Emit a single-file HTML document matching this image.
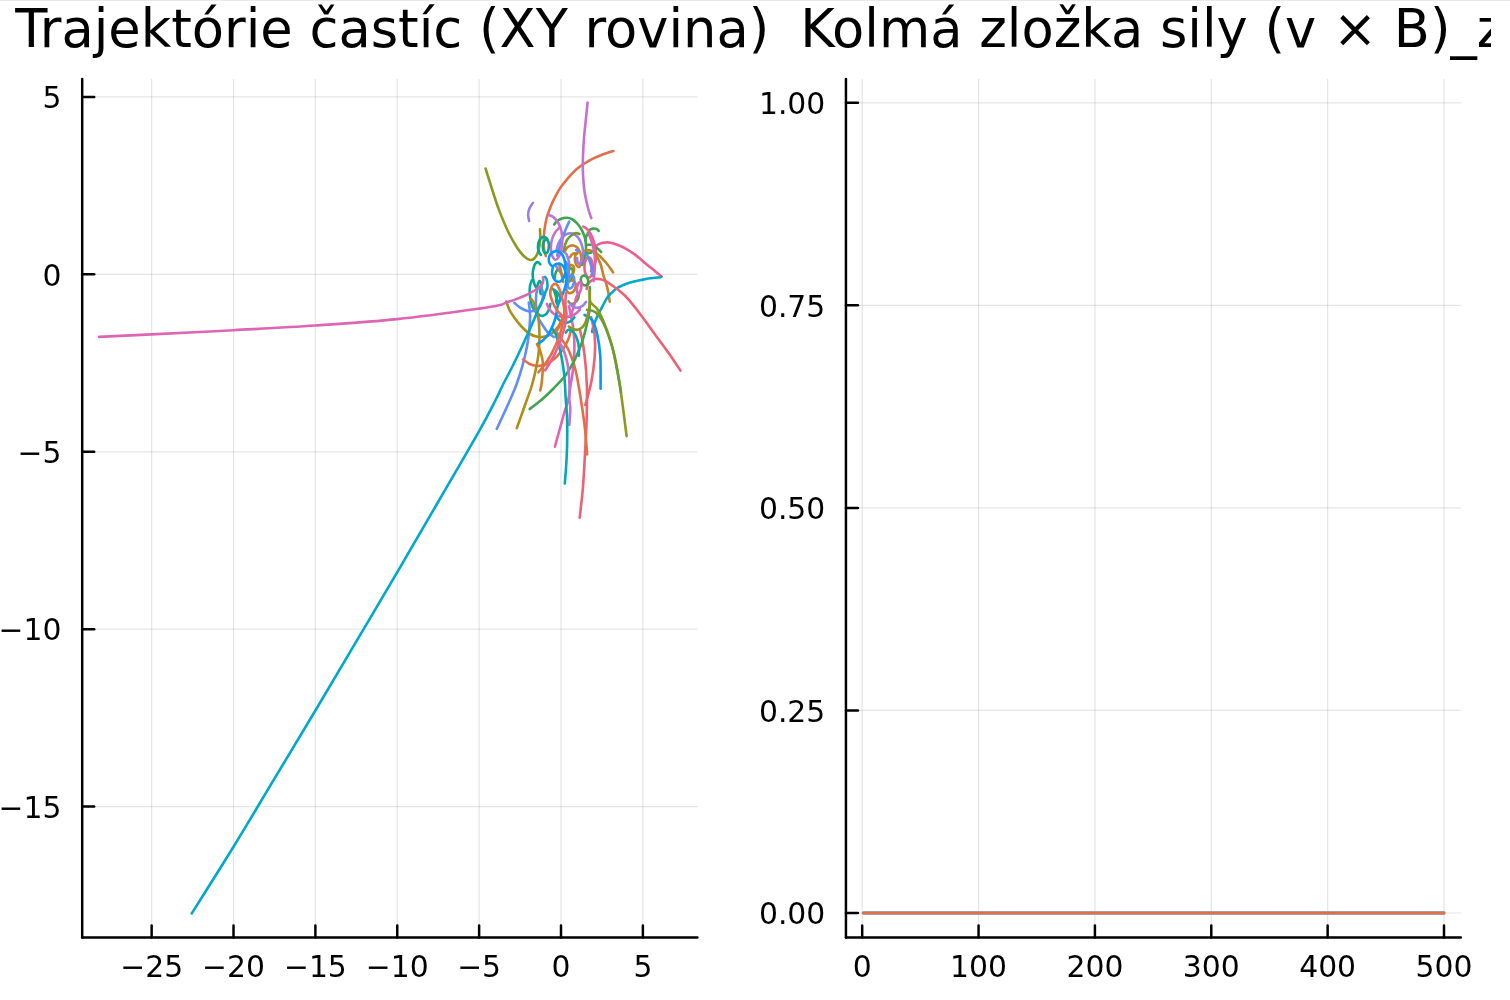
<!DOCTYPE html>
<html lang="sk"><head><meta charset="utf-8"><title>Trajektórie častíc</title>
<style>html,body{margin:0;padding:0;background:#fff;}body{width:1510px;height:1000px;overflow:hidden;position:relative;}#top{position:absolute;left:0;top:0;width:1510px;height:1px;background:#e9e9ec;}svg{position:absolute;left:0;top:0;will-change:transform;}text{font-family:"DejaVu Sans","Liberation Sans",sans-serif;fill:#000;}.tk{font-size:29.80px;}.tt{font-size:52.66px;}.c{fill:none;stroke-width:2.6;stroke-linecap:round;stroke-linejoin:round;}</style></head><body>
<div id="top"></div>
<svg width="1510" height="1000" viewBox="0 0 1510 1000">
<defs><clipPath id="clipAll"><rect x="0" y="0" width="1491" height="1000"/></clipPath><clipPath id="clipL"><rect x="82.20" y="79.10" width="615.20" height="858.40"/></clipPath></defs>
<g stroke="#000" stroke-opacity="0.1" stroke-width="1.24">
<line x1="151.65" y1="79.10" x2="151.65" y2="937.50"/>
<line x1="233.52" y1="79.10" x2="233.52" y2="937.50"/>
<line x1="315.39" y1="79.10" x2="315.39" y2="937.50"/>
<line x1="397.26" y1="79.10" x2="397.26" y2="937.50"/>
<line x1="479.13" y1="79.10" x2="479.13" y2="937.50"/>
<line x1="561.00" y1="79.10" x2="561.00" y2="937.50"/>
<line x1="642.87" y1="79.10" x2="642.87" y2="937.50"/>
<line x1="82.20" y1="96.95" x2="697.40" y2="96.95"/>
<line x1="82.20" y1="274.36" x2="697.40" y2="274.36"/>
<line x1="82.20" y1="451.77" x2="697.40" y2="451.77"/>
<line x1="82.20" y1="629.18" x2="697.40" y2="629.18"/>
<line x1="82.20" y1="806.59" x2="697.40" y2="806.59"/>
</g>
<g stroke="#000" stroke-opacity="0.1" stroke-width="1.24">
<line x1="862.20" y1="79.10" x2="862.20" y2="937.50"/>
<line x1="978.56" y1="79.10" x2="978.56" y2="937.50"/>
<line x1="1094.92" y1="79.10" x2="1094.92" y2="937.50"/>
<line x1="1211.28" y1="79.10" x2="1211.28" y2="937.50"/>
<line x1="1327.64" y1="79.10" x2="1327.64" y2="937.50"/>
<line x1="1444.00" y1="79.10" x2="1444.00" y2="937.50"/>
<line x1="845.95" y1="913.00" x2="1460.80" y2="913.00"/>
<line x1="845.95" y1="710.45" x2="1460.80" y2="710.45"/>
<line x1="845.95" y1="507.90" x2="1460.80" y2="507.90"/>
<line x1="845.95" y1="305.35" x2="1460.80" y2="305.35"/>
<line x1="845.95" y1="102.80" x2="1460.80" y2="102.80"/>
</g>
<g class="c" clip-path="url(#clipL)">
<path stroke="#E36F47" d="M613.4 151.0C611.5 151.6 605.9 153.3 602.0 154.8C598.1 156.3 594.0 158.0 590.0 160.2C586.0 162.4 581.6 165.1 578.0 168.0C574.4 170.9 571.4 174.2 568.4 177.6C565.4 181.0 562.4 184.8 560.0 188.4C557.6 192.0 555.7 195.8 554.0 199.2C552.3 202.6 551.1 205.5 549.8 208.8C548.5 212.1 547.3 215.3 546.4 219.0C545.5 222.7 544.8 227.2 544.3 231.0C543.8 234.8 543.6 238.8 543.6 242.0C543.6 245.2 543.8 247.7 544.2 250.0C544.6 252.3 545.5 255.0 545.8 256.0"/>
<path stroke="#3EA44E" d="M554.2 224.4C554.7 223.8 555.9 221.8 557.2 220.8C558.5 219.8 560.4 218.9 562.0 218.4C563.6 217.9 565.2 217.7 566.8 217.8C568.4 217.9 570.0 218.2 571.6 219.0C573.2 219.8 574.9 221.1 576.4 222.6C577.9 224.1 579.4 226.1 580.6 228.0C581.8 229.9 582.8 232.0 583.6 234.0C584.4 236.0 585.0 237.8 585.4 240.0C585.8 242.2 586.0 244.9 586.0 247.2C586.0 249.5 585.8 251.9 585.5 254.0C585.2 256.1 584.5 258.2 584.0 260.0C583.5 261.8 582.5 264.2 582.2 265.0"/>
<path stroke="#C371D2" d="M587.6 102.6C587.3 105.5 586.4 114.1 585.8 120.0C585.2 125.9 584.5 132.0 584.0 138.0C583.5 144.0 583.2 150.0 583.0 156.0C582.8 162.0 582.7 168.0 583.0 174.0C583.3 180.0 583.7 186.2 584.6 192.0C585.5 197.8 587.1 204.4 588.2 208.8C589.3 213.2 590.8 216.6 591.3 218.2"/>
<path stroke="#AC8E18" d="M506.3 301.4C506.8 302.8 508.1 307.2 509.5 310.0C510.9 312.8 512.8 315.6 514.8 318.3C516.8 321.1 519.1 324.0 521.5 326.5C523.9 329.0 526.5 331.6 529.0 333.3C531.5 335.0 534.2 336.0 536.5 336.6C538.8 337.2 540.5 337.2 542.5 337.0C544.5 336.8 546.6 336.4 548.5 335.5C550.4 334.6 552.2 333.3 553.8 331.8C555.4 330.3 557.0 328.2 558.3 326.5C559.5 324.8 560.8 322.2 561.3 321.3"/>
<path stroke="#00AAAE" d="M531.8 280.4C531.5 281.3 530.4 283.7 530.0 285.8C529.6 287.9 529.6 290.6 529.7 293.0C529.8 295.4 530.2 297.9 530.6 300.2C531.0 302.5 531.5 304.8 532.4 306.8C533.3 308.8 534.8 310.8 536.0 312.2C537.2 313.6 538.4 314.6 539.6 315.2C540.8 315.8 542.0 316.1 543.2 315.8C544.4 315.5 545.8 314.6 546.8 313.4C547.8 312.2 548.6 310.2 549.2 308.6C549.8 307.0 550.2 304.6 550.4 303.8"/>
<path stroke="#ED5E93" d="M583.2 226.5C583.7 226.8 585.1 227.3 586.1 228.2C587.1 229.1 588.3 230.4 589.3 231.8C590.3 233.2 591.2 235.0 592.0 236.7C592.8 238.3 593.3 240.1 593.8 241.7C594.3 243.3 594.8 244.8 595.1 246.2C595.4 247.6 595.6 248.6 595.8 250.2C595.9 251.8 596.0 253.8 596.0 255.6C596.0 257.4 595.8 259.4 595.6 261.0C595.4 262.6 595.1 263.8 594.7 265.5C594.3 267.2 593.9 269.2 593.3 271.0C592.7 272.8 591.8 274.9 591.0 276.0C590.2 277.1 589.1 277.8 588.3 277.6C587.5 277.4 586.6 276.3 586.0 275.0C585.4 273.7 584.8 271.8 584.6 270.0C584.4 268.2 584.4 266.2 584.6 264.5C584.8 262.8 585.2 261.2 585.8 260.0C586.4 258.8 587.2 257.8 588.0 257.5C588.8 257.2 589.8 257.8 590.5 258.5C591.2 259.2 591.7 260.7 592.0 262.0C592.3 263.3 592.5 265.0 592.3 266.5C592.1 268.0 591.2 270.2 591.0 271.0"/>
<path stroke="#ED5E93" d="M595.6 246.6C596.0 246.2 597.1 245.0 598.3 244.4C599.5 243.8 601.2 243.1 602.8 242.8C604.4 242.5 606.2 242.4 607.7 242.4C609.2 242.4 610.4 242.7 611.8 243.0C613.1 243.3 614.4 243.7 615.8 244.2C617.2 244.7 618.5 245.2 620.0 245.9C621.5 246.6 622.3 246.7 624.8 248.1C627.2 249.5 631.2 251.9 634.7 254.4C638.2 256.9 642.0 260.5 645.5 263.4C649.0 266.2 652.7 269.3 655.4 271.5C658.1 273.7 660.7 275.7 661.7 276.5"/>
<path stroke="#C68225" d="M565.0 251.1C565.4 250.5 566.3 248.4 567.2 247.5C568.1 246.6 569.4 246.0 570.4 245.7C571.4 245.4 572.5 245.3 573.5 245.5C574.5 245.7 575.8 246.4 576.7 247.1C577.6 247.8 578.3 248.8 578.9 249.8C579.5 250.8 579.9 251.8 580.3 252.9C580.7 254.0 581.0 255.5 581.2 256.5C581.4 257.5 581.5 257.7 581.4 258.8C581.3 259.9 580.8 262.0 580.5 263.3C580.2 264.6 579.9 266.4 579.4 266.9C578.9 267.4 578.2 266.9 577.6 266.4C577.0 265.9 576.2 264.8 575.8 263.7C575.3 262.6 575.0 261.3 574.9 260.1C574.8 258.9 574.9 257.6 575.1 256.5C575.3 255.4 575.7 254.5 576.2 253.8C576.7 253.1 577.7 252.7 578.0 252.5"/>
<path stroke="#C68225" d="M569.9 257.4C570.2 256.9 571.0 255.4 571.7 254.7C572.5 254.0 573.5 253.5 574.4 253.4C575.3 253.3 576.6 253.9 577.0 254.0"/>
<path stroke="#C68225" d="M584.3 251.1C584.9 250.9 586.7 250.3 587.9 250.2C589.1 250.1 590.3 250.3 591.5 250.7C592.7 251.1 593.8 251.7 595.1 252.5C596.4 253.3 597.9 254.4 599.2 255.6C600.6 256.8 601.9 258.3 603.2 259.7C604.6 261.1 606.0 262.6 607.3 264.2C608.6 265.8 609.9 267.7 610.9 269.1C611.9 270.5 612.7 271.8 613.1 272.4"/>
<path stroke="#C68225" d="M596.9 256.5C597.3 257.2 598.5 259.5 599.2 261.0C599.9 262.5 600.3 263.2 601.0 265.5C601.7 267.8 602.4 271.7 603.2 274.6C604.0 277.5 605.1 279.9 605.9 282.7C606.7 285.5 607.6 288.5 608.2 291.7C608.8 294.9 609.5 300.0 609.7 301.6"/>
<path stroke="#00A98D" d="M540.3 264.4C539.9 264.0 538.9 262.3 538.1 262.2C537.3 262.1 536.1 262.5 535.4 263.5C534.6 264.5 534.0 266.4 533.6 268.0C533.2 269.6 532.8 271.5 532.7 273.4C532.6 275.3 532.8 277.5 533.1 279.3C533.4 281.1 534.0 282.8 534.5 284.2C535.0 285.6 535.7 287.8 536.3 287.8C536.9 287.8 537.5 285.1 538.0 284.0C538.5 282.9 539.0 281.2 539.5 281.0C540.0 280.8 540.7 282.0 541.0 283.0C541.3 284.0 541.7 285.7 541.5 287.0C541.3 288.3 540.1 289.8 540.0 291.0C539.9 292.2 540.8 293.5 541.0 294.0"/>
<path stroke="#8E971E" d="M485.6 168.6C486.7 172.1 490.0 182.8 492.2 189.6C494.4 196.4 496.2 202.5 498.8 209.4C501.4 216.3 504.8 224.7 507.8 231.0C510.8 237.3 514.1 243.0 516.8 247.2C519.5 251.4 521.8 254.1 524.0 256.2C526.2 258.3 528.5 259.7 530.3 260.0C532.1 260.3 533.4 259.5 534.8 258.0C536.1 256.5 537.5 253.8 538.4 250.8C539.3 247.8 539.9 243.6 540.2 240.0C540.5 236.4 540.0 231.0 540.0 229.2"/>
<path stroke="#00A9CC" d="M661.0 277.2C659.2 277.4 653.3 277.8 650.0 278.3C646.7 278.8 644.0 279.4 641.0 280.0C638.0 280.6 634.8 281.2 632.0 282.0C629.2 282.8 626.6 283.7 624.0 284.8C621.4 285.9 618.3 287.3 616.3 288.6C614.3 289.9 613.3 291.1 611.8 292.6C610.3 294.1 608.9 295.3 607.3 297.6C605.7 299.9 604.1 303.2 602.4 306.4C600.7 309.6 598.5 313.7 597.0 317.0C595.5 320.3 594.3 323.5 593.5 326.0C592.7 328.5 592.3 330.9 592.1 331.9"/>
<path stroke="#9B7FE9" d="M533.0 202.9C532.4 203.8 530.2 206.5 529.4 208.5C528.6 210.5 528.1 212.7 528.1 214.8C528.1 216.9 529.0 220.1 529.2 221.1"/>
<path stroke="#9B7FE9" d="M556.6 249.6C556.9 248.6 557.5 245.6 558.4 243.6C559.3 241.6 560.6 239.2 562.0 237.6C563.4 236.0 565.2 234.7 566.8 234.0C568.4 233.3 570.0 233.1 571.6 233.4C573.2 233.7 575.0 234.6 576.4 235.8C577.8 237.0 579.0 238.7 580.0 240.6C581.0 242.5 581.9 244.9 582.4 247.2C582.9 249.5 583.1 252.1 583.0 254.4C582.9 256.7 582.3 259.4 581.8 261.0C581.3 262.6 580.7 263.8 580.0 264.0C579.3 264.2 578.1 263.2 577.6 262.2C577.1 261.2 577.1 258.7 577.0 258.0"/>
<path stroke="#9B7FE9" d="M562.0 250.8C562.6 251.2 564.6 252.0 565.6 253.2C566.6 254.4 567.4 256.2 568.0 258.0C568.6 259.8 569.1 262.0 569.2 264.0C569.3 266.0 569.0 268.0 568.6 270.0C568.2 272.0 567.3 275.0 567.0 276.0"/>
<path stroke="#618DF6" d="M569.2 221.7C568.8 222.5 567.6 225.0 566.8 226.8C566.0 228.7 565.2 230.6 564.4 232.8C563.6 235.0 562.8 237.6 562.0 240.0C561.2 242.4 560.4 244.6 559.6 247.2C558.8 249.8 557.6 254.2 557.2 255.6"/>
<path stroke="#618DF6" d="M585.7 252.9C586.1 253.5 587.2 255.2 587.9 256.5C588.6 257.9 589.2 259.5 589.7 261.0C590.2 262.5 590.6 264.0 591.0 265.5C591.4 267.0 591.8 268.2 592.0 270.0C592.2 271.8 592.0 275.0 592.0 276.0"/>
<path stroke="#618DF6" d="M514.4 302.9C515.3 303.6 517.9 306.1 519.8 307.4C521.7 308.6 523.8 309.8 525.8 310.4C527.8 311.0 529.9 311.4 531.8 311.3C533.7 311.2 535.7 310.9 537.2 309.8C538.7 308.8 539.9 306.8 540.8 305.0C541.7 303.2 542.2 301.0 542.6 299.0C543.0 297.0 543.1 294.8 542.9 293.0C542.7 291.2 542.0 289.2 541.4 288.2C540.8 287.2 539.8 286.6 539.0 287.0C538.2 287.4 537.4 288.8 536.9 290.6C536.4 292.4 536.1 295.4 536.0 297.8C535.9 300.2 535.8 302.6 536.0 305.0C536.2 307.4 536.9 310.1 537.2 312.2C537.5 314.3 537.1 315.4 538.0 317.5C538.9 319.6 540.9 322.5 542.5 325.0C544.1 327.5 545.9 330.5 547.8 332.5C549.7 334.5 552.8 336.2 553.8 337.0"/>
<path stroke="#618DF6" d="M528.8 302.6C528.9 303.8 529.5 307.5 529.7 310.0C529.9 312.5 530.2 313.8 530.1 317.5C530.0 321.2 529.5 327.5 529.0 332.5C528.5 337.5 527.9 341.9 526.8 347.5C525.7 353.1 524.0 360.1 522.3 366.3C520.5 372.6 518.3 379.4 516.3 385.0C514.2 390.6 513.2 392.7 510.0 400.0C506.8 407.3 499.0 424.1 496.8 428.9"/>
<path stroke="#F06073" d="M586.6 289.0C586.8 288.2 587.1 285.9 587.9 284.5C588.7 283.1 590.1 281.4 591.5 280.5C592.9 279.6 594.5 279.1 596.0 278.9C597.5 278.7 599.0 279.0 600.5 279.3C602.0 279.6 603.5 280.2 605.0 280.9C606.5 281.6 608.0 282.6 609.5 283.6C611.0 284.6 612.2 285.5 614.0 286.8C615.8 288.1 617.7 289.3 620.0 291.3C622.3 293.3 624.2 294.6 627.8 298.7C631.4 302.8 636.9 309.8 641.4 315.7C645.9 321.6 650.5 328.2 655.0 334.4C659.5 340.6 664.4 347.1 668.6 353.1C672.9 359.1 678.5 367.7 680.5 370.6"/>
<path stroke="#F06073" d="M591.3 317.4C591.9 320.5 594.1 329.6 594.7 336.1C595.3 342.6 595.3 348.9 594.7 356.5C594.1 364.1 592.9 373.9 591.3 382.0C589.7 390.1 586.3 401.2 585.3 405.0"/>
<path stroke="#F06073" d="M580.0 330.3C580.4 331.9 581.5 335.9 582.3 340.0C583.0 344.1 583.9 350.0 584.5 355.0C585.1 360.0 585.6 365.0 586.0 370.0C586.4 375.0 586.6 381.6 586.8 385.0C587.0 388.4 587.0 385.0 587.0 390.5C587.0 396.0 587.0 407.6 586.7 418.0C586.4 428.4 585.6 441.3 585.0 453.0C584.4 464.7 583.8 477.2 582.9 488.0C582.0 498.8 580.2 512.8 579.7 517.7"/>
<path stroke="#DD65B6" d="M99.1 336.9C107.8 336.5 129.1 335.5 151.5 334.4C173.9 333.3 206.2 331.7 233.5 330.2C260.8 328.7 287.9 327.4 315.2 325.5C342.5 323.6 369.9 321.9 397.2 319.1C424.5 316.3 462.1 311.0 479.2 308.6C496.3 306.2 495.5 306.0 500.0 305.0C504.5 304.0 503.5 303.5 506.0 302.6C508.5 301.7 512.0 300.7 515.0 299.6C518.0 298.5 521.3 297.2 524.0 296.0C526.7 294.8 529.0 293.6 531.2 292.4C533.4 291.2 535.4 290.1 537.2 288.8C539.0 287.5 541.0 285.9 542.0 284.6C543.0 283.3 543.1 282.2 543.2 281.0C543.4 279.8 543.0 278.0 542.9 277.4"/>
<path stroke="#DD65B6" d="M546.8 303.8C547.3 304.8 548.6 308.1 549.8 309.8C551.0 311.5 552.3 312.9 554.0 314.0C555.7 315.1 558.0 315.9 560.0 316.4C562.0 316.9 564.0 317.1 566.0 317.0C568.0 316.9 570.1 316.6 572.0 315.8C573.9 315.0 576.1 313.3 577.4 312.2C578.7 311.1 579.6 309.7 580.0 309.2"/>
<path stroke="#DD65B6" d="M569.0 306.2C569.3 307.8 570.3 312.2 571.0 316.0C571.7 319.8 572.7 324.2 573.3 328.8C573.9 333.4 574.3 338.8 574.4 343.8C574.5 348.8 574.3 353.8 574.0 358.8C573.7 363.8 573.1 369.4 572.5 373.8C571.9 378.2 571.3 380.6 570.6 385.0C569.9 389.4 569.3 395.2 568.2 400.0C567.1 404.8 566.2 406.0 564.0 413.8C561.8 421.6 556.4 441.2 554.9 446.7"/>
<path stroke="#6B9E32" d="M579.4 234.0C578.8 233.8 577.1 232.9 575.8 233.1C574.5 233.3 573.0 234.1 571.6 235.2C570.2 236.2 568.5 237.8 567.4 239.4C566.3 241.0 565.6 242.9 565.0 244.8C564.4 246.7 564.0 249.8 563.8 250.8"/>
<path stroke="#6B9E32" d="M568.4 301.4C568.8 301.8 569.8 303.5 570.8 303.8C571.8 304.1 573.2 304.0 574.4 303.2C575.6 302.4 577.2 300.7 578.0 299.0C578.8 297.3 579.0 294.0 579.2 293.0"/>
<path stroke="#009AFA" d="M584.5 314.9C585.8 315.8 590.0 316.8 592.1 320.0C594.2 323.2 595.8 328.3 597.2 334.4C598.6 340.5 599.7 347.4 600.3 356.5C600.9 365.6 600.5 383.4 600.6 388.8"/>
<path stroke="#E36F47" d="M523.0 359.5C524.1 360.2 527.5 362.9 529.8 364.0C532.0 365.1 534.1 365.7 536.5 365.9C538.9 366.1 541.5 365.9 544.0 365.1C546.5 364.3 549.2 362.6 551.5 361.0C553.8 359.4 555.5 357.9 557.5 355.8C559.5 353.7 561.8 350.9 563.5 348.3C565.2 345.7 566.8 342.8 568.0 340.0C569.2 337.2 570.2 333.2 570.6 331.8"/>
<path stroke="#E36F47" d="M556.8 332.5C557.7 333.8 560.2 337.5 562.0 340.0C563.8 342.5 565.7 344.5 567.3 347.5C568.9 350.5 570.4 354.2 571.8 358.0C573.2 361.8 574.4 365.5 575.5 370.0C576.6 374.5 577.4 378.6 578.5 385.0C579.6 391.4 581.1 400.8 582.2 408.2C583.3 415.6 584.2 421.5 585.0 429.2C585.8 436.9 586.8 450.2 587.1 454.4"/>
<path stroke="#3EA44E" d="M590.2 229.5C590.7 229.3 592.2 228.7 593.3 228.6C594.3 228.5 595.6 228.6 596.5 229.0C597.4 229.4 598.3 230.6 598.7 230.9"/>
<path stroke="#3EA44E" d="M587.9 233.1C587.6 233.7 586.5 235.5 586.1 236.7C585.7 237.9 585.4 239.7 585.2 240.3"/>
<path stroke="#3EA44E" d="M587.0 244.8L590.6 244.8"/>
<path stroke="#3EA44E" d="M596.9 248.0C597.3 248.3 598.5 249.1 599.2 249.8C599.9 250.5 600.9 251.6 601.2 252.0"/>
<path stroke="#3EA44E" d="M586.6 252.5C587.0 252.6 588.0 253.1 588.8 253.1C589.6 253.1 591.0 252.6 591.5 252.5"/>
<path stroke="#3EA44E" d="M588.0 279.6C588.2 280.3 588.2 281.1 588.2 281.8C588.1 282.4 588.0 283.2 587.7 283.7C587.4 284.2 587.0 284.7 586.5 285.0C586.1 285.3 585.5 285.4 585.0 285.4C584.5 285.4 583.9 285.2 583.3 284.9C582.8 284.5 582.3 284.0 581.9 283.4C581.5 282.9 581.2 282.1 581.0 281.4C580.8 280.7 580.8 279.9 580.8 279.2C580.9 278.6 581.0 277.8 581.3 277.3C581.6 276.8 582.0 276.3 582.5 276.0C582.9 275.7 583.5 275.6 584.0 275.6C584.5 275.6 585.1 275.8 585.7 276.1C586.2 276.5 586.7 277.0 587.1 277.6C587.5 278.1 587.8 278.9 588.0 279.6"/>
<path stroke="#3EA44E" d="M529.7 409.0C531.7 407.5 537.6 403.2 541.6 399.8C545.6 396.4 549.6 392.5 553.5 388.5C557.4 384.5 561.8 380.1 565.0 376.0C568.2 371.9 570.2 368.1 572.5 364.0C574.8 359.9 576.6 355.9 578.5 351.3C580.4 346.7 582.3 341.3 583.8 336.3C585.3 331.3 586.6 325.7 587.5 321.3C588.4 316.9 589.0 313.9 589.4 310.0C589.8 306.1 589.7 301.8 589.8 298.0C589.9 294.2 589.8 289.0 589.8 287.2"/>
<path stroke="#C371D2" d="M548.5 214.8C549.4 215.2 552.0 215.8 553.6 217.2C555.2 218.6 557.1 220.9 558.4 223.2C559.7 225.5 560.8 228.2 561.4 231.0C562.0 233.8 562.3 237.0 562.3 240.0C562.3 243.0 561.9 246.2 561.4 249.0C560.9 251.8 559.8 254.8 559.0 256.5C558.2 258.2 557.4 258.9 556.6 259.4C555.8 259.8 555.0 260.0 554.2 259.2C553.4 258.4 552.3 256.4 551.8 254.4C551.2 252.4 550.9 249.6 550.9 247.2C550.9 244.8 551.1 242.4 551.8 240.0C552.4 237.6 553.6 234.8 554.8 232.8C556.0 230.8 558.3 228.8 559.0 228.0"/>
<path stroke="#C371D2" d="M560.9 344.5C561.5 345.8 563.2 349.0 564.3 352.0C565.4 355.0 566.5 358.9 567.3 362.5C568.0 366.1 568.4 370.1 568.8 373.8C569.2 377.6 569.4 380.6 569.5 385.0C569.6 389.4 569.3 396.1 569.4 400.0C569.5 403.9 570.3 404.0 570.3 408.2C570.3 412.4 569.5 422.2 569.3 425.0"/>
<path stroke="#AC8E18" d="M531.2 299.0C531.5 299.4 532.4 300.2 533.0 301.4C533.6 302.6 534.0 304.3 534.8 306.2C535.5 308.1 536.8 310.5 537.5 313.0C538.2 315.5 538.5 317.4 538.8 321.3C539.1 325.2 539.5 331.3 539.5 336.3C539.5 341.3 539.3 346.3 538.8 351.3C538.3 356.3 537.6 360.7 536.5 366.3C535.4 371.9 533.6 379.4 532.0 385.0C530.4 390.6 529.3 392.8 526.8 400.0C524.3 407.2 518.5 423.4 516.8 428.1"/>
<path stroke="#00AAAE" d="M552.3 328.4C552.8 329.2 554.4 331.4 555.3 333.3C556.2 335.2 556.8 337.4 557.5 340.0C558.2 342.6 559.0 345.8 559.8 349.0C560.5 352.2 561.3 355.6 562.0 359.5C562.7 363.4 563.4 368.1 563.9 372.3C564.4 376.6 564.7 380.4 565.0 385.0C565.3 389.6 565.4 394.5 565.8 400.0C566.1 405.5 566.9 410.3 567.1 418.0C567.3 425.7 567.3 437.8 567.1 446.0C566.9 454.2 566.5 460.8 566.1 467.0C565.7 473.2 565.0 480.8 564.8 483.5"/>
<path stroke="#00AAAE" d="M565.8 332.5C566.2 332.1 567.1 330.3 568.0 329.9C568.9 329.5 569.9 329.6 571.0 330.3C572.1 331.0 573.7 332.4 574.8 334.0C575.9 335.6 576.7 337.8 577.4 340.0C578.1 342.2 578.6 344.9 578.9 347.5C579.1 350.1 578.9 354.4 578.9 355.8"/>
<path stroke="#00AAAE" d="M556.0 316.8C556.6 317.4 558.3 319.5 559.8 320.5C561.3 321.5 563.2 322.7 565.0 322.8C566.8 322.9 568.7 322.2 570.3 321.3C571.9 320.4 573.7 318.1 574.4 317.5"/>
<path stroke="#ED5E93" d="M566.0 293.0C565.9 294.5 565.4 299.0 565.4 302.0C565.4 305.0 565.8 309.0 566.0 311.0C566.2 313.0 566.5 312.1 566.5 313.8C566.5 315.5 566.3 318.4 565.8 321.3C565.3 324.2 564.5 327.5 563.5 331.0C562.5 334.5 561.2 338.7 559.8 342.3C558.4 345.9 556.9 349.4 555.3 352.8C553.7 356.2 551.7 359.6 550.0 362.5C548.3 365.4 545.9 369.1 545.1 370.4"/>
<path stroke="#C68225" d="M536.9 344.1C537.3 344.9 538.7 346.9 539.5 349.0C540.3 351.1 541.2 354.0 541.8 356.5C542.4 359.0 542.8 361.1 542.9 364.0C543.0 366.9 542.8 370.3 542.5 373.8C542.2 377.3 541.8 382.2 541.4 385.0C541.0 387.8 540.4 389.5 540.2 390.4"/>
<path stroke="#C68225" d="M575.3 288.2C575.0 289.1 574.5 290.0 574.0 290.7C573.5 291.5 572.8 292.1 572.1 292.5C571.4 292.9 570.7 293.1 570.0 293.1C569.3 293.1 568.6 292.9 568.1 292.5C567.6 292.1 567.1 291.5 566.8 290.8C566.5 290.1 566.3 289.1 566.3 288.2C566.3 287.3 566.4 286.3 566.7 285.4C567.0 284.5 567.5 283.6 568.0 282.9C568.5 282.1 569.2 281.5 569.9 281.1C570.6 280.7 571.3 280.5 572.0 280.5C572.7 280.5 573.4 280.7 573.9 281.1C574.4 281.5 574.9 282.1 575.2 282.8C575.5 283.5 575.7 284.5 575.7 285.4C575.7 286.3 575.6 287.3 575.3 288.2"/>
<path stroke="#C68225" d="M574.0 270.5C573.8 271.2 573.6 272.0 573.3 272.6C573.0 273.2 572.6 273.8 572.2 274.2C571.8 274.6 571.3 274.8 570.8 274.9C570.4 275.0 569.9 274.9 569.5 274.7C569.1 274.5 568.7 274.0 568.5 273.5C568.2 273.0 568.0 272.3 568.0 271.7C567.9 271.0 567.9 270.2 568.0 269.5C568.2 268.8 568.4 268.0 568.7 267.4C569.0 266.8 569.4 266.2 569.8 265.8C570.2 265.4 570.7 265.2 571.2 265.1C571.6 265.0 572.1 265.1 572.5 265.3C572.9 265.5 573.3 266.0 573.5 266.5C573.8 267.0 574.0 267.7 574.0 268.3C574.1 269.0 574.1 269.8 574.0 270.5"/>
<path stroke="#8E971E" d="M568.8 326.5C569.4 326.9 571.1 328.2 572.5 328.8C573.9 329.4 575.5 330.0 577.0 329.9C578.5 329.8 580.1 329.2 581.5 328.0C582.9 326.8 584.3 324.8 585.3 322.8C586.3 320.8 586.9 318.1 587.5 316.0C588.1 313.9 588.6 312.4 589.0 310.0C589.4 307.6 589.7 304.9 589.8 301.6C589.9 298.3 589.5 290.1 589.6 290.2C589.7 290.3 589.1 299.0 590.4 302.1C591.7 305.2 594.9 305.5 597.2 308.9C599.5 312.3 601.5 316.0 604.0 322.5C606.5 329.0 610.0 338.1 612.5 348.0C615.0 357.9 617.4 371.2 619.3 382.0C621.1 392.8 622.4 403.6 623.6 412.6C624.8 421.6 626.1 432.2 626.6 436.1"/>
<path stroke="#6B9E32" d="M587.0 309.8C588.4 310.2 592.7 309.9 595.5 312.3C598.3 314.7 601.2 318.2 604.0 324.2C606.8 330.1 610.2 340.1 612.5 348.0C614.8 355.9 616.2 364.4 617.6 371.8C619.0 379.2 620.4 388.8 621.0 392.2"/>
<path stroke="#DD65B6" d="M588.8 234.0C589.2 235.0 590.3 237.8 591.0 239.8C591.7 241.8 592.4 244.1 592.9 246.1C593.4 248.1 593.9 249.9 594.2 252.0C594.5 254.1 594.8 256.1 594.9 258.8C595.0 261.5 594.9 265.3 594.8 268.0C594.7 270.7 594.4 272.8 594.2 275.0C594.0 277.2 593.6 280.0 593.5 281.0"/>
<path stroke="#9B7FE9" d="M556.0 265.8C556.5 266.6 558.0 269.2 559.0 270.6C560.0 272.0 561.5 273.6 562.0 274.2"/>
<path stroke="#C68225" d="M559.0 264.0C559.3 265.0 560.3 268.0 560.8 270.0C561.3 272.0 561.6 274.0 562.0 276.0C562.4 278.0 563.0 281.0 563.2 282.0"/>
<path stroke="#3EA44E" d="M557.2 270.0C556.9 270.6 555.8 272.3 555.4 273.6C555.0 274.9 554.9 277.1 554.8 277.8"/>
<path stroke="#6B9E32" d="M572.8 274.5C572.7 275.4 572.4 276.3 572.2 277.1C571.9 277.8 571.6 278.6 571.2 279.1C570.9 279.6 570.5 279.9 570.1 280.1C569.8 280.2 569.4 280.2 569.1 279.9C568.7 279.7 568.5 279.2 568.3 278.6C568.1 278.1 567.9 277.3 567.9 276.5C567.9 275.7 567.9 274.7 568.0 273.9C568.1 273.0 568.4 272.1 568.6 271.3C568.9 270.6 569.2 269.8 569.6 269.3C569.9 268.8 570.3 268.5 570.7 268.3C571.0 268.2 571.4 268.2 571.7 268.5C572.1 268.7 572.3 269.2 572.5 269.8C572.7 270.3 572.9 271.1 572.9 271.9C572.9 272.7 572.9 273.7 572.8 274.5"/>
<path stroke="#618DF6" d="M573.9 282.6C573.7 283.6 573.4 284.6 573.0 285.4C572.7 286.2 572.2 286.9 571.8 287.4C571.3 287.9 570.8 288.3 570.3 288.4C569.9 288.6 569.4 288.5 569.0 288.2C568.6 287.9 568.3 287.3 568.1 286.7C567.9 286.0 567.8 285.1 567.8 284.2C567.8 283.4 567.9 282.3 568.1 281.4C568.3 280.4 568.6 279.4 569.0 278.6C569.3 277.8 569.8 277.1 570.2 276.6C570.7 276.1 571.2 275.7 571.7 275.6C572.1 275.4 572.6 275.5 573.0 275.8C573.4 276.1 573.7 276.7 573.9 277.3C574.1 278.0 574.2 278.9 574.2 279.8C574.2 280.6 574.1 281.7 573.9 282.6"/>
<path stroke="#DD65B6" d="M581.2 288.1C581.0 288.9 580.8 289.8 580.5 290.5C580.3 291.2 579.9 291.9 579.6 292.3C579.3 292.8 578.9 293.1 578.6 293.3C578.3 293.4 577.9 293.3 577.7 293.1C577.4 292.9 577.2 292.4 577.0 291.9C576.9 291.3 576.8 290.6 576.8 289.8C576.8 289.1 576.9 288.1 577.0 287.3C577.2 286.5 577.4 285.6 577.7 284.9C577.9 284.2 578.3 283.5 578.6 283.1C578.9 282.6 579.3 282.3 579.6 282.1C579.9 282.0 580.3 282.1 580.5 282.3C580.8 282.5 581.0 283.0 581.2 283.5C581.3 284.1 581.4 284.8 581.4 285.6C581.4 286.3 581.3 287.3 581.2 288.1"/>
<path stroke="#DD65B6" d="M579.0 293.0C578.6 293.7 577.2 294.8 576.4 297.0C575.6 299.2 574.9 303.0 574.0 306.0C573.1 309.0 571.5 313.5 571.0 315.0"/>
<path stroke="#9B7FE9" d="M569.8 303.0C570.3 303.6 571.5 305.8 572.8 306.6C574.1 307.4 576.0 307.9 577.6 307.8C579.2 307.7 581.0 307.0 582.4 306.0C583.8 305.0 585.4 302.5 586.0 301.8"/>
<path stroke="#6B9E32" d="M552.4 288.6C552.7 289.0 553.6 289.6 554.2 291.0C554.8 292.4 555.5 295.0 556.0 297.0C556.5 299.0 557.0 302.0 557.2 303.0"/>
<path stroke="#00AAAE" d="M554.5 290.0C555.1 290.5 557.1 291.8 558.0 293.0C558.9 294.2 559.8 296.0 560.0 297.5C560.2 299.0 559.2 301.2 559.0 302.0"/>
<path stroke="#00A98D" d="M555.0 292.0C555.3 292.7 556.8 294.5 557.0 296.0C557.2 297.5 555.8 299.5 556.0 301.0C556.2 302.5 557.7 304.3 558.0 305.0"/>
<path stroke="#618DF6" d="M566.0 262.0C566.3 263.0 567.6 265.7 568.0 268.0C568.4 270.3 568.7 273.3 568.5 276.0C568.3 278.7 567.6 281.7 567.0 284.0C566.4 286.3 565.3 289.0 565.0 290.0"/>
<path stroke="#618DF6" d="M576.0 250.0L578.5 251.0"/>
<path stroke="#00A9CC" d="M191.7 913.5C198.7 902.4 219.7 869.3 233.5 846.8C247.3 824.3 260.9 801.2 274.6 778.4C288.3 755.6 302.1 732.9 315.7 710.0C329.3 687.1 342.9 664.1 356.5 641.1C370.1 618.1 383.7 595.5 397.3 572.2C410.9 548.9 424.7 525.1 438.4 501.5C452.1 477.9 469.9 447.6 479.4 430.7C488.9 413.8 491.7 407.6 495.6 400.0C499.5 392.4 500.0 390.6 502.8 385.0C505.6 379.4 509.4 372.6 512.5 366.3C515.6 360.1 518.8 353.4 521.5 347.5C524.2 341.6 526.9 335.8 529.0 331.0C531.1 326.2 532.8 322.5 534.3 319.0C535.8 315.5 536.9 312.6 538.0 310.0C539.1 307.4 539.8 305.7 540.8 303.6C541.8 301.5 543.0 299.4 543.8 297.4C544.6 295.4 545.0 293.5 545.6 291.8C546.2 290.1 547.2 289.0 547.4 287.0C547.6 285.0 547.2 281.5 546.8 279.8C546.4 278.1 545.3 277.3 545.0 276.8"/>
<path stroke="#00A98D" d="M541.0 255.0C540.6 254.4 539.1 252.9 538.6 251.4C538.1 249.9 537.9 247.8 538.0 246.0C538.1 244.2 538.5 242.0 539.2 240.6C539.9 239.2 541.1 237.8 542.2 237.3C543.3 236.8 544.8 236.9 545.8 237.6C546.8 238.2 547.7 239.8 548.2 241.2C548.7 242.6 549.0 244.3 548.9 246.0C548.8 247.7 548.4 250.2 547.9 251.4C547.4 252.6 546.5 253.2 545.8 253.2C545.1 253.2 544.2 252.5 543.7 251.4C543.2 250.3 542.8 248.2 542.8 246.6C542.8 245.0 543.2 242.9 543.7 241.8C544.2 240.7 545.2 240.3 545.5 240.0"/>
<path stroke="#009AFA" d="M551.6 265.8C551.2 265.3 549.8 263.9 549.3 262.6C548.8 261.3 548.7 259.6 548.9 258.1C549.1 256.6 549.8 254.7 550.7 253.6C551.6 252.5 553.0 251.8 554.3 251.4C555.6 251.0 557.0 251.0 558.3 251.4C559.6 251.8 560.9 252.8 561.9 254.1C562.9 255.4 563.6 257.2 564.2 259.0C564.8 260.8 565.1 263.0 565.3 264.9C565.5 266.8 565.6 268.6 565.5 270.3C565.4 272.0 565.1 273.7 564.6 275.2C564.1 276.7 563.5 278.2 562.8 279.3C562.0 280.4 561.1 281.1 560.1 281.5C559.1 281.9 558.0 281.9 557.0 281.5C556.0 281.1 555.0 280.4 554.3 279.3C553.5 278.2 552.9 276.7 552.5 275.2C552.1 273.7 552.1 271.8 552.2 270.3C552.4 268.8 552.8 267.2 553.4 266.2C554.0 265.1 555.1 264.4 556.1 264.0C557.1 263.6 558.2 263.3 559.2 263.5C560.2 263.7 561.5 264.4 562.4 265.3C563.3 266.2 564.0 267.4 564.6 268.9C565.2 270.4 565.7 272.5 566.0 274.3C566.3 276.1 566.5 277.8 566.4 279.7C566.3 281.6 566.0 283.9 565.5 286.0C565.0 288.1 564.3 289.8 563.5 292.0C562.7 294.2 561.5 296.6 560.5 299.0C559.5 301.4 558.4 303.4 557.6 306.2C556.9 309.0 556.8 312.9 556.0 316.0C555.2 319.1 554.2 322.0 553.0 325.0C551.8 328.0 550.2 331.4 548.5 334.0C546.8 336.6 544.2 339.3 542.5 340.8C540.8 342.3 539.2 342.6 538.5 343.0"/>
<path stroke="#E36F47" d="M556.0 331.8C556.6 330.8 558.4 328.5 559.5 326.0C560.6 323.5 562.7 319.5 562.4 317.0C562.1 314.5 559.1 313.3 557.5 311.0C555.9 308.7 554.2 305.8 553.0 303.0C551.8 300.2 550.5 296.9 550.3 294.2C550.0 291.5 550.6 288.7 551.5 287.0C552.4 285.3 554.4 283.4 555.8 284.0C557.2 284.6 558.7 287.1 560.0 290.6C561.3 294.1 562.9 301.1 563.6 305.0C564.3 308.9 564.4 310.7 564.3 313.8C564.2 316.9 563.5 320.0 562.8 323.5C562.0 327.0 561.0 331.1 559.8 334.8C558.5 338.6 556.9 342.4 555.3 346.0C553.7 349.6 551.9 353.2 550.0 356.5C548.1 359.8 545.9 362.9 544.0 365.5C542.1 368.1 539.3 371.2 538.4 372.3"/>
</g>
<g class="c">
<line x1="863.36" y1="913.00" x2="1444.00" y2="913.00" stroke="#7a8fb0" stroke-width="3.3"/>
<line x1="863.36" y1="913.00" x2="1444.00" y2="913.00" stroke="#e26f46" stroke-width="2.48"/>
</g>
<g stroke="#000" stroke-width="2.48" stroke-linecap="round" fill="none">
<line x1="82.20" y1="937.50" x2="697.40" y2="937.50"/>
<line x1="82.20" y1="79.10" x2="82.20" y2="937.50"/>
<line x1="151.65" y1="937.50" x2="151.65" y2="925.50"/>
<line x1="233.52" y1="937.50" x2="233.52" y2="925.50"/>
<line x1="315.39" y1="937.50" x2="315.39" y2="925.50"/>
<line x1="397.26" y1="937.50" x2="397.26" y2="925.50"/>
<line x1="479.13" y1="937.50" x2="479.13" y2="925.50"/>
<line x1="561.00" y1="937.50" x2="561.00" y2="925.50"/>
<line x1="642.87" y1="937.50" x2="642.87" y2="925.50"/>
<line x1="82.20" y1="96.95" x2="94.20" y2="96.95"/>
<line x1="82.20" y1="274.36" x2="94.20" y2="274.36"/>
<line x1="82.20" y1="451.77" x2="94.20" y2="451.77"/>
<line x1="82.20" y1="629.18" x2="94.20" y2="629.18"/>
<line x1="82.20" y1="806.59" x2="94.20" y2="806.59"/>
<line x1="845.95" y1="937.50" x2="1460.80" y2="937.50"/>
<line x1="845.95" y1="79.10" x2="845.95" y2="937.50"/>
<line x1="862.20" y1="937.50" x2="862.20" y2="925.50"/>
<line x1="978.56" y1="937.50" x2="978.56" y2="925.50"/>
<line x1="1094.92" y1="937.50" x2="1094.92" y2="925.50"/>
<line x1="1211.28" y1="937.50" x2="1211.28" y2="925.50"/>
<line x1="1327.64" y1="937.50" x2="1327.64" y2="925.50"/>
<line x1="1444.00" y1="937.50" x2="1444.00" y2="925.50"/>
<line x1="845.95" y1="913.00" x2="857.95" y2="913.00"/>
<line x1="845.95" y1="710.45" x2="857.95" y2="710.45"/>
<line x1="845.95" y1="507.90" x2="857.95" y2="507.90"/>
<line x1="845.95" y1="305.35" x2="857.95" y2="305.35"/>
<line x1="845.95" y1="102.80" x2="857.95" y2="102.80"/>
</g>
<g class="tk" text-anchor="middle">
<text x="151.65" y="977.0">−25</text>
<text x="233.52" y="977.0">−20</text>
<text x="315.39" y="977.0">−15</text>
<text x="397.26" y="977.0">−10</text>
<text x="479.13" y="977.0">−5</text>
<text x="561.00" y="977.0">0</text>
<text x="642.87" y="977.0">5</text>
<text x="862.20" y="977.0">0</text>
<text x="978.56" y="977.0">100</text>
<text x="1094.92" y="977.0">200</text>
<text x="1211.28" y="977.0">300</text>
<text x="1327.64" y="977.0">400</text>
<text x="1444.00" y="977.0">500</text>
</g>
<g class="tk" text-anchor="end">
<text x="61.5" y="108.15">5</text>
<text x="61.5" y="285.56">0</text>
<text x="61.5" y="462.97">−5</text>
<text x="61.5" y="640.38">−10</text>
<text x="61.5" y="817.79">−15</text>
<text x="825.3" y="924.20">0.00</text>
<text x="825.3" y="721.65">0.25</text>
<text x="825.3" y="519.10">0.50</text>
<text x="825.3" y="316.55">0.75</text>
<text x="825.3" y="114.00">1.00</text>
</g>
<g class="tt" text-anchor="middle" clip-path="url(#clipAll)">
<text x="392.30" y="46.6">Trajektórie častíc (XY rovina)</text>
<text x="1152.30" y="46.6">Kolmá zložka sily (v × B)_z</text>
</g>
</svg></body></html>
